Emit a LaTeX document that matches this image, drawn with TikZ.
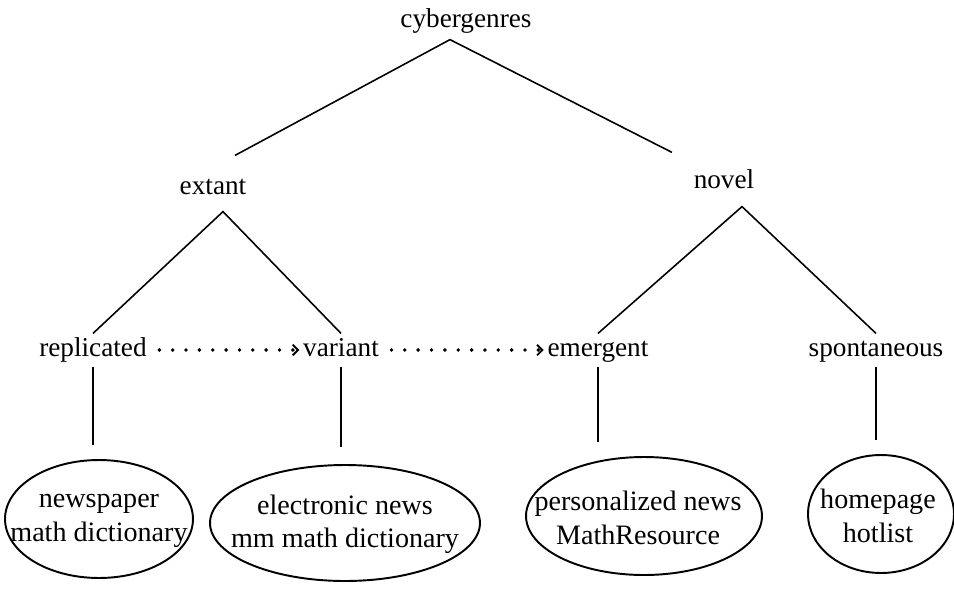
\documentclass[tikz,border=0pt]{standalone}
\usepackage{fontspec}
\setmainfont{Liberation Serif}
\usetikzlibrary{arrows.meta,calc}

\tikzset{
    word/.style={inner sep=2pt, text height=11pt, text depth=3.5pt,
        font=\fontsize{15.5}{17}\selectfont},
    leaf/.style={inner sep=0pt, align=center, font=\fontsize{16}{19}\selectfont},
    ring/.style={line width=1.1pt},
    branch/.style={line width=0.9pt},
    dotarrow/.style={line width=2.2pt, line cap=round, dash pattern=on 0pt off 7.6pt,
        shorten <=5pt, -{Straight Barb[length=3pt,width=6pt,line width=1.1pt]}}
}

\begin{document}
\begin{tikzpicture}[x=0.02cm,y=-0.02cm]
    \useasboundingbox (0,0) rectangle (954,599);

    % top of the tree
    \node[word] (cyber) at (466,21) {cybergenres};
    \node[word] (extant) at (213,188) {extant};
    \node[word] (novel) at (724,182) {novel};

    % second row
    \node[word] (repl) at (93,350) {replicated};
    \node[word] (variant) at (341,350) {variant};
    \node[word] (emergent) at (598,350) {emergent};
    \node[word] (spont) at (876,350) {spontaneous};

    % examples
    \node[leaf] (news) at (99,521) {newspaper\\math dictionary};
    \node[leaf] (elec) at (345,524) {electronic news\\mm math dictionary};
    \node[leaf] (pers) at (638,518) {personalized news\\MathResource};
    \node[leaf] (home) at (878,516) {homepage\\hotlist};
    \draw[ring] (99,519) ellipse [x radius=1.88cm, y radius=1.18cm];
    \draw[ring] (345,523) ellipse [x radius=2.70cm, y radius=1.16cm];
    \draw[ring] (644,516) ellipse [x radius=2.36cm, y radius=1.18cm];
    \draw[ring] (881,514) ellipse [x radius=1.46cm, y radius=1.18cm];

    % branches
    \draw[branch] ($(extant.north)+(22,-16)$) -- ($(cyber.south)+(-16,2)$) -- ($(novel.north)+(-52,-13)$);
    \draw[branch] (repl.north) -- ($(extant.south)+(10,7)$) -- (variant.north);
    \draw[branch] (emergent.north) -- ($(novel.south)+(18,8)$) -- (spont.north);

    % stems
    \draw[branch] (repl.south) -- ++(0,78);
    \draw[branch] (variant.south) -- ++(0,80);
    \draw[branch] (emergent.south) -- ++(0,75);
    \draw[branch] (spont.south) -- ++(0,73);

    % dotted arrows
    \draw[dotarrow] (repl.east) -- (variant.west);
    \draw[dotarrow] (variant.east) -- (emergent.west);
\end{tikzpicture}
\end{document}
